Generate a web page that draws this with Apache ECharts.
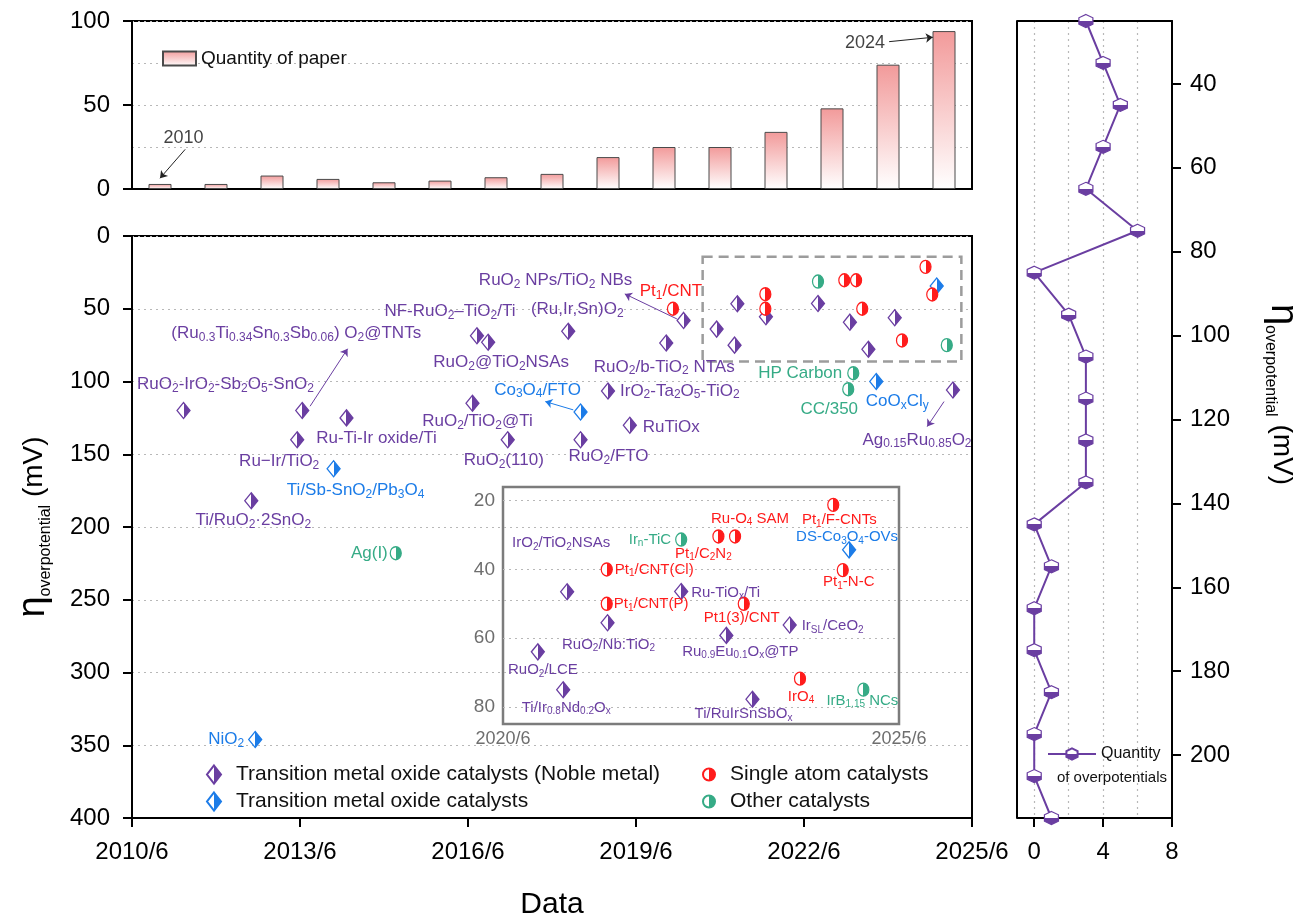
<!DOCTYPE html>
<html>
<head>
<meta charset="utf-8">
<title>Overpotential vs date</title>
<script src="https://cdn.jsdelivr.net/npm/echarts@6/dist/echarts.min.js"></script>
<style>
  html, body { margin: 0; padding: 0; background: #fff; }
  #chart { width: 1293px; height: 920px; }
</style>
</head>
<body>
<div id="chart"></div>
<script>
// papers per year (top panel)
const paperYears = [2010, 2011, 2012, 2013, 2014, 2015, 2016, 2017, 2018, 2019, 2020, 2021, 2022, 2023, 2024]
const paperCounts = [3, 3, 8, 6, 4, 5, 7, 9, 19, 25, 25, 34, 48, 74, 94]

// number of overpotentials per 10 mV bin (right panel)
const levelMv = [25, 35, 45, 55, 65, 75, 85, 95, 105, 115, 125, 135, 145, 155, 165, 175, 185, 195, 205, 215]
const levelCounts = [3, 4, 5, 4, 3, 6, 0, 2, 3, 3, 3, 3, 0, 1, 0, 0, 1, 0, 0, 1]

// [date (decimal year), overpotential (mV), catalyst]
const noblePoints = [
  [2011.42, 120, 'RuO{s|2}-IrO{s|2}-Sb{s|2}O{s|5}-SnO{s|2}'],
  [2012.63, 182, 'Ti/RuO{s|2}·2SnO{s|2}'],
  [2013.45, 140, 'Ru−Ir/TiO{s|2}'],
  [2013.54, 120, '(Ru{s|0.3}Ti{s|0.34}Sn{s|0.3}Sb{s|0.06}) O{s|2}@TNTs'],
  [2014.33, 125, 'Ru-Ti-Ir oxide/Ti'],
  [2016.58, 115, 'RuO{s|2}/TiO{s|2}@Ti'],
  [2016.66, 68.5, 'NF-RuO{s|2}–TiO{s|2}/Ti'],
  [2016.86, 73, 'RuO{s|2}@TiO{s|2}NSAs'],
  [2017.21, 140, 'RuO{s|2}(110)'],
  [2018.29, 65.5, '(Ru,Ir,Sn)O{s|2}'],
  [2018.51, 140, 'RuO{s|2}/FTO'],
  [2019.0, 106.5, 'IrO{s|2}-Ta{s|2}O{s|5}-TiO{s|2}'],
  [2019.39, 130, 'RuTiOx'],
  [2020.04, 73.5, 'RuO{s|2}/b-TiO{s|2} NTAs'],
  [2020.35, 58, 'RuO{s|2} NPs/TiO{s|2} NBs'],
  [2020.94, 64, 'RuO{s|2}/LCE'],
  [2021.26, 75, 'Ti/Ir{s|0.8}Nd{s|0.2}O{s|x}'],
  [2021.31, 46.5, 'IrO{s|2}/TiO{s|2}NSAs'],
  [2021.82, 55.5, 'RuO{s|2}/Nb:TiO{s|2}'],
  [2022.75, 46.4, 'Ru-TiO{s|x}/Ti'],
  [2023.32, 59.2, 'Ru{s|0.9}Eu{s|0.1}O{s|x}@TP'],
  [2023.65, 77.8, 'Ti/RuIrSnSbO{s|x}'],
  [2024.12, 56.2, 'Ir{s|SL}/CeO{s|2}'],
  [2025.16, 105.8, 'Ag{s|0.15}Ru{s|0.85}O{s|2}']
]
const oxidePoints = [
  [2012.7, 346, 'NiO{s|2}'],
  [2014.1, 160, 'Ti/Sb-SnO{s|2}/Pb{s|3}O{s|4}'],
  [2018.51, 121, 'Co{s|3}O{s|4}/FTO'],
  [2023.79, 100, 'CoO{s|x}Cl{s|y}'],
  [2024.87, 34.3, 'DS-Co{s|3}O{s|4}-OVs']
]
const singleAtomPoints = [
  [2020.16, 50, 'Pt{s|1}/CNT'],
  [2021.81, 40, 'Pt{s|1}/CNT(Cl)'],
  [2021.81, 50, 'Pt{s|1}/CNT(P)'],
  [2023.22, 30.4, 'Pt{s|1}/C{s|2}N{s|2}'],
  [2023.43, 30.4, 'Ru-O{s|4} SAM'],
  [2023.54, 50, 'Pt1(3)/CNT'],
  [2024.25, 71.8, 'IrO{s|4}'],
  [2024.67, 21.2, 'Pt{s|1}/F-CNTs'],
  [2024.79, 40.2, 'Pt{s|1}-N-C']
]
const otherPoints = [
  [2015.21, 218, 'Ag(I)'],
  [2022.75, 31.3, 'Ir{s|n}-TiC'],
  [2023.29, 105.3, 'CC/350'],
  [2023.38, 94.3, 'HP Carbon'],
  [2025.05, 75, 'IrB{s|1.15} NCs']
]

const dateTicks = [2010.5, 2013.5, 2016.5, 2019.5, 2022.5, 2025.5]
const paperTicks = [0, 50, 100]
const countTicks = [0, 4, 8]
const countGridLines = [0, 2, 4, 6]
const countRange = [-1, 8]
const levelTicks = [40, 60, 80, 100, 120, 140, 160, 180, 200]
const insetTicks = [20, 40, 60, 80]
const insetDateTicks = [2020.5, 2025.5]
const insetRange = { x: [2020.5, 2025.5], y: [16, 85] }

// label placement: [dx, dy, align] relative to the marker
const mainLabels = {
  'RuO{s|2}-IrO{s|2}-Sb{s|2}O{s|5}-SnO{s|2}': [42, -26],
  'Ti/RuO{s|2}·2SnO{s|2}': [2, 20],
  'Ru−Ir/TiO{s|2}': [-18, 22],
  '(Ru{s|0.3}Ti{s|0.34}Sn{s|0.3}Sb{s|0.06}) O{s|2}@TNTs': [-6, -77],
  'Ru-Ti-Ir oxide/Ti': [30, 20],
  'RuO{s|2}/TiO{s|2}@Ti': [5, 18],
  'NF-RuO{s|2}–TiO{s|2}/Ti': [-27, -24],
  'RuO{s|2}@TiO{s|2}NSAs': [13, 20],
  'RuO{s|2}(110)': [-4, 21],
  '(Ru,Ir,Sn)O{s|2}': [9, -22],
  'RuO{s|2}/FTO': [28, 17],
  'IrO{s|2}-Ta{s|2}O{s|5}-TiO{s|2}': [12, 0, 'left'],
  'RuTiOx': [13, 2, 'left'],
  'RuO{s|2}/b-TiO{s|2} NTAs': [-2, 24],
  'RuO{s|2} NPs/TiO{s|2} NBs': [-128, -40],
  'Ag{s|0.15}Ru{s|0.85}O{s|2}': [-36, 50],
  'NiO{s|2}': [-11, 0, 'right'],
  'Ti/Sb-SnO{s|2}/Pb{s|3}O{s|4}': [22, 22],
  'Co{s|3}O{s|4}/FTO': [-43, -22],
  'CoO{s|x}Cl{s|y}': [21, 20],
  'Pt{s|1}/CNT': [-2, -17],
  'Ag(I)': [-8, 0, 'right'],
  'CC/350': [-19, 20],
  'HP Carbon': [-11, 0, 'right']
}
const insetLabels = {
  'RuO{s|2}/LCE': [5, 18],
  'Ti/Ir{s|0.8}Nd{s|0.2}O{s|x}': [3, 18],
  'IrO{s|2}/TiO{s|2}NSAs': [-6, -49],
  'RuO{s|2}/Nb:TiO{s|2}': [1, 22],
  'Ru-TiO{s|x}/Ti': [10, 1, 'left'],
  'Ru{s|0.9}Eu{s|0.1}O{s|x}@TP': [14, 16],
  'Ti/RuIrSnSbO{s|x}': [-9, 15],
  'Ir{s|SL}/CeO{s|2}': [12, 1, 'left'],
  'DS-Co{s|3}O{s|4}-OVs': [-2, -13],
  'Pt{s|1}/CNT(Cl)': [8, 0, 'left'],
  'Pt{s|1}/CNT(P)': [7, 0, 'left'],
  'Pt{s|1}/C{s|2}N{s|2}': [-15, 17],
  'Ru-O{s|4} SAM': [15, -18],
  'Pt1(3)/CNT': [-2, 14],
  'IrO{s|4}': [1, 18],
  'Pt{s|1}/F-CNTs': [6, 15],
  'Pt{s|1}-N-C': [6, 12],
  'Ir{s|n}-TiC': [-10, 0, 'right'],
  'IrB{s|1.15} NCs': [-1, 11]
}

// arrows pointing from a marker to its label
const arrows = [
  { group: 0, from: [2013.68, 117], to: [2014.35, 77.5] },
  { group: 0, from: [2020.23, 57], to: [2019.3, 39.8] },
  { group: 0, from: [2025.0, 113.8], to: [2024.7, 131] },
  { group: 1, from: [2018.38, 119.5], to: [2017.88, 113.8] }
]
const paperNotes = [
  { text: '2010', at: [2010.42, 30.2], from: [2010.45, 23.6], to: [2010.0, 6.4] },
  { text: '2024', at: [2022.59, 86.7], from: [2023.02, 87.7], to: [2023.8, 90.3] }
]
const zoomBox = [[2020.69, 14.2], [2025.31, 86.3]]

const FONT = '"Liberation Sans", Arial, Helvetica, sans-serif'
const purple = '#6a3ea1'
const dotted = { show: true, lineStyle: { color: '#b8b8b8', type: [2, 4], width: 1.2 } }
const blackLine = { show: true, onZero: false, lineStyle: { color: '#000', width: 2 } }

const groups = [
  { name: 'Transition metal oxide catalysts (Noble metal)', color: purple, symbol: 'diamond', size: [13, 16], points: noblePoints },
  { name: 'Transition metal oxide catalysts', color: '#1c7ce8', symbol: 'diamond', size: [13, 16], points: oxidePoints },
  { name: 'Single atom catalysts', color: '#ff1c1c', symbol: 'circle', size: [11, 13], points: singleAtomPoints },
  { name: 'Other catalysts', color: '#36ab86', symbol: 'circle', size: [11, 13], points: otherPoints }
]

const halfFill = (color, vertical) => new echarts.graphic.LinearGradient(
  0, 0, vertical ? 0 : 1, vertical ? 1 : 0,
  [{ offset: 0, color: '#fff' }, { offset: 0.5, color: '#fff' }, { offset: 0.5, color: color }, { offset: 1, color: color }]
)

function pointSeries(g, xi, yi, points, labels, fs) {
  return {
    type: 'scatter',
    name: g.name,
    xAxisIndex: xi,
    yAxisIndex: yi,
    symbol: g.symbol,
    symbolSize: g.size,
    z: 5,
    data: points.map(p => {
      const item = { value: [p[0], p[1]], name: p[2] }
      const l = labels[p[2]]
      if (l) item.label = { show: true, offset: [l[0], l[1]], align: l[2] || 'center' }
      return item
    }),
    itemStyle: { color: halfFill(g.color), borderColor: g.color, borderWidth: 1.3, opacity: 1 },
    label: {
      show: false,
      position: 'inside',
      verticalAlign: 'middle',
      color: g.color,
      fontSize: fs,
      lineHeight: fs + 3,
      fontFamily: FONT,
      formatter: p => p.name,
      rich: {
        s: { fontSize: Math.round(fs * 0.68), lineHeight: 8, verticalAlign: 'bottom', color: g.color, fontFamily: FONT }
      }
    },
    emphasis: { disabled: true }
  }
}

const inInset = p => p[0] >= insetRange.x[0] && p[0] <= insetRange.x[1] && p[1] >= insetRange.y[0] && p[1] <= insetRange.y[1]

const series = []

// top panel bars
series.push({
  type: 'bar',
  name: 'Quantity of paper',
  xAxisIndex: 0,
  yAxisIndex: 0,
  barWidth: 23,
  data: paperYears.map((y, i) => [y, paperCounts[i]]),
  itemStyle: {
    color: new echarts.graphic.LinearGradient(0, 0, 0, 1, [{ offset: 0, color: '#f29a9a' }, { offset: 1, color: '#ffffff' }]),
    borderColor: '#4a4a4a',
    borderWidth: 1
  },
  markLine: {
    silent: true,
    symbol: ['none', 'arrow'],
    symbolSize: 7,
    label: { show: false },
    lineStyle: { color: '#222', width: 1, type: 'solid' },
    data: paperNotes.map(n => [{ coord: n.from }, { coord: n.to }])
  }
})
series.push({
  type: 'scatter',
  xAxisIndex: 0,
  yAxisIndex: 0,
  silent: true,
  symbolSize: 1,
  itemStyle: { color: 'rgba(0,0,0,0)' },
  data: paperNotes.map(n => ({ value: n.at, name: n.text })),
  label: { show: true, position: 'inside', color: '#111', fontSize: 18, fontFamily: FONT, formatter: p => p.name }
})

// main scatter + inset
groups.forEach((g, gi) => {
  const s = pointSeries(g, 1, 2, g.points, mainLabels, 17)
  const own = arrows.filter(a => a.group === gi)
  if (own.length) {
    s.markLine = {
      silent: true,
      symbol: ['none', 'arrow'],
      symbolSize: 7,
      label: { show: false },
      lineStyle: { color: g.color, width: 1, type: 'solid' },
      data: own.map(a => [{ coord: a.from }, { coord: a.to }])
    }
  }
  if (gi === 0) {
    s.markArea = {
      silent: true,
      itemStyle: { color: 'rgba(0,0,0,0)', borderColor: '#9c9c9c', borderWidth: 2.5, borderType: [10, 6] },
      data: [[{ coord: zoomBox[0] }, { coord: zoomBox[1] }]]
    }
  }
  series.push(s)
})
groups.forEach(g => {
  series.push(pointSeries(g, 2, 3, g.points.filter(inInset), insetLabels, 15))
})

// right panel (left edge of its frame drawn at the axis minimum)
series.push({
  type: 'line',
  name: 'Quantity',
  xAxisIndex: 3,
  yAxisIndex: 4,
  data: levelCounts.map((c, i) => [c, levelMv[i]]),
  symbol: 'path://M0,-10 L8.66,-5 L8.66,5 L0,10 L-8.66,5 L-8.66,-5 Z',
  symbolSize: [14, 13],
  clip: false,
  lineStyle: { color: purple, width: 2 },
  itemStyle: { color: halfFill(purple, true), borderColor: purple, borderWidth: 1.2 },
  markLine: {
    silent: true,
    symbol: ['none', 'none'],
    label: { show: false },
    lineStyle: { color: '#000', width: 2, type: 'solid' },
    data: [{ xAxis: countRange[0] }]
  }
})

const tickLabel = { color: '#000', fontSize: 24, fontFamily: FONT }
const frame = { show: true, borderColor: '#000', borderWidth: 2, backgroundColor: 'rgba(0,0,0,0)', outerBoundsMode: 'none', containLabel: false }
const nameRich = {
  eta: { fontSize: 38, lineHeight: 40, fontFamily: FONT, color: '#000' },
  sub: { fontSize: 16, lineHeight: 10, verticalAlign: 'bottom', fontFamily: FONT, color: '#000' },
  unit: { fontSize: 28, lineHeight: 40, fontFamily: FONT, color: '#000' }
}
const hidden = { show: false, onZero: false }

const option = {
  animation: false,
  backgroundColor: '#fff',
  textStyle: { fontFamily: FONT },
  grid: [
    Object.assign({ left: 132, top: 21, width: 840, height: 168 }, frame),
    Object.assign({ left: 132, top: 236, width: 840, height: 582 }, frame),
    Object.assign({ left: 503, top: 487, width: 396, height: 237 }, frame, { borderColor: '#7c7c7c', borderWidth: 2.5 }),
    Object.assign({ left: 1017, top: 21, width: 155, height: 797 }, frame, { show: false })
  ],
  xAxis: [
    {
      gridIndex: 0, type: 'value', min: 2009.5, max: 2024.5,
      axisLine: blackLine,
      axisTick: { show: false }, axisLabel: { show: false }, splitLine: { show: false }
    },
    {
      gridIndex: 1, type: 'value', min: 2010.5, max: 2025.5,
      name: 'Data', nameLocation: 'middle', nameGap: 72,
      nameTextStyle: { fontSize: 30, color: '#000', fontFamily: FONT },
      axisLine: blackLine,
      axisTick: { customValues: dateTicks, length: 9, lineStyle: { width: 2, color: '#000' } },
      axisLabel: Object.assign({ customValues: dateTicks, margin: 22, formatter: v => Math.floor(v) + '/6' }, tickLabel),
      splitLine: { show: false }
    },
    {
      gridIndex: 2, type: 'value', min: insetRange.x[0], max: insetRange.x[1],
      axisLine: hidden, axisTick: { show: false, customValues: insetDateTicks },
      axisLabel: { customValues: insetDateTicks, margin: 6, color: '#6e6e6e', fontSize: 18, fontFamily: FONT, formatter: v => Math.floor(v) + '/6' },
      splitLine: { show: false }
    },
    {
      gridIndex: 3, type: 'value', min: countRange[0], max: countRange[1], position: 'bottom',
      axisLine: blackLine,
      axisTick: { customValues: countTicks, length: 9, lineStyle: { width: 2, color: '#000' } },
      axisLabel: Object.assign({ customValues: countTicks, margin: 22 }, tickLabel),
      splitLine: { show: false }
    },
    {
      gridIndex: 3, type: 'value', min: countRange[0], max: countRange[1], position: 'top',
      axisLine: blackLine, axisTick: { show: false, customValues: countGridLines }, axisLabel: { show: false },
      splitLine: dotted
    }
  ],
  yAxis: [
    {
      gridIndex: 0, type: 'value', min: 0, max: 100,
      axisLine: blackLine,
      axisTick: { customValues: paperTicks, length: 9, lineStyle: { width: 2, color: '#000' } },
      axisLabel: Object.assign({ customValues: paperTicks, margin: 22 }, tickLabel),
      splitLine: { show: false }
    },
    {
      gridIndex: 0, type: 'value', min: 0, max: 100, interval: 25,
      axisLine: hidden, axisTick: { show: false }, axisLabel: { show: false },
      splitLine: dotted
    },
    {
      gridIndex: 1, type: 'value', min: 0, max: 400, interval: 50, inverse: true,
      name: '{eta|η}{sub|overpotential}{unit| (mV)}',
      nameLocation: 'middle', nameRotate: 90, nameGap: 78,
      nameTextStyle: { color: '#000', rich: nameRich },
      axisLine: blackLine,
      axisTick: { length: 9, lineStyle: { width: 2, color: '#000' } },
      axisLabel: Object.assign({ margin: 22 }, tickLabel),
      splitLine: dotted
    },
    {
      gridIndex: 2, type: 'value', min: insetRange.y[0], max: insetRange.y[1], inverse: true,
      axisLine: hidden, axisTick: { show: false, customValues: insetTicks },
      axisLabel: { customValues: insetTicks, margin: 8, color: '#6e6e6e', fontSize: 19, fontFamily: FONT },
      splitLine: dotted
    },
    {
      gridIndex: 3, type: 'value', min: 25, max: 215, inverse: true, position: 'right',
      name: '{eta|η}{sub|overpotential}{unit| (mV)}',
      nameLocation: 'middle', nameRotate: -90, nameGap: 90,
      nameTextStyle: { color: '#000', rich: nameRich, padding: [0, 50, 0, 0] },
      axisLine: blackLine,
      axisTick: { customValues: levelTicks, length: 9, lineStyle: { width: 2, color: '#000' } },
      axisLabel: Object.assign({ customValues: levelTicks, margin: 18 }, tickLabel),
      splitLine: { show: false }
    }
  ],
  legend: [
    {
      data: [{ name: 'Quantity of paper', icon: 'rect' }], left: 157, top: 44, itemWidth: 33, itemHeight: 14,
      textStyle: { fontSize: 19, color: '#111', fontFamily: FONT }, selectedMode: false
    },
    {
      data: [groups[0].name, groups[1].name], orient: 'vertical', left: 201, top: 759,
      itemWidth: 14, itemHeight: 18, itemGap: 6,
      textStyle: { fontSize: 21, color: '#111', fontFamily: FONT, padding: [0, 0, 0, 10] }, selectedMode: false
    },
    {
      data: [groups[2].name, groups[3].name], orient: 'vertical', left: 697, top: 759,
      itemWidth: 12, itemHeight: 14, itemGap: 6,
      textStyle: { fontSize: 21, color: '#111', fontFamily: FONT, padding: [0, 0, 0, 10] }, selectedMode: false
    },
    {
      data: ['Quantity'], left: 1042, top: 741, itemWidth: 48, itemHeight: 14,
      textStyle: { fontSize: 16, color: '#111', fontFamily: FONT }, selectedMode: false
    }
  ],
  graphic: [
    {
      type: 'text', right: 126, top: 770,
      style: { text: 'of overpotentials', fontSize: 15, fill: '#111', fontFamily: FONT }
    }
  ],
  series: series
}

const myChart = echarts.init(document.getElementById('chart'))
myChart.setOption(option)
</script>
</body>
</html>
